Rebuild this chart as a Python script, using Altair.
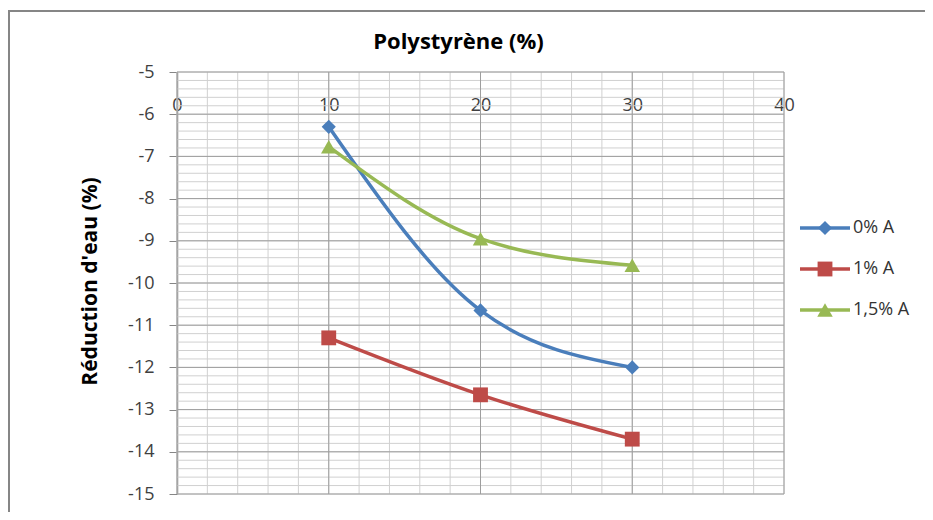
import altair as alt
import pandas as pd

# ---- data ----
polystyrene = [10, 20, 30]
series_names = ["0% A", "1% A", "1,5% A"]
s_0 = [-6.3, -10.65, -12.0]
s_1 = [-11.3, -12.65, -13.7]
s_15 = [-6.77, -8.95, -9.58]
colors = ["#4A7EBB", "#BE4B48", "#98B954"]
shapes = ["diamond", "square", "triangle-up"]
sizes = [200, 240, 260]
x_ticks = [0, 10, 20, 30, 40]
y_ticks = list(range(-15, -4))
x_minor = list(range(0, 41, 2))
y_minor = [round(-15 + 0.2 * i, 1) for i in range(51)]

rows = []
for name, vals in zip(series_names, [s_0, s_1, s_15]):
    for x, v in zip(polystyrene, vals):
        rows.append({"series": name, "x": x, "y": v})
df = pd.DataFrame(rows)
leg = pd.DataFrame({"series": series_names, "i": list(range(len(series_names)))})

W, H = 607, 422
FONT = "Open Sans"
xs = alt.Scale(domain=[0, 40], nice=False, zero=False)
ys = alt.Scale(domain=[-15, -5], nice=False, zero=False)
color = alt.Color("series:N", scale=alt.Scale(domain=series_names, range=colors), legend=None)
shape = alt.Shape("series:N", scale=alt.Scale(domain=series_names, range=shapes), legend=None)
size = alt.Size("series:N", scale=alt.Scale(domain=series_names, range=sizes), legend=None)

x_axis = alt.Axis(orient="top", offset=-H / 10, values=x_ticks, domain=False, ticks=False, grid=False,
                  labelFont=FONT, labelFontSize=18, labelColor="#404040", labelPadding=0,
                  labelFlush=False, title=None, labelBaseline="bottom")
y_axis = alt.Axis(orient="left", values=y_ticks, grid=False, domainColor="#868686", domainWidth=1.5,
                  tickColor="#868686", tickSize=8, labelPadding=15, labelFont=FONT,
                  labelFontSize=18, labelColor="#404040", labelExpr="datum.value + ''",
                  title="Réduction d'eau (%)", titleFont=FONT, titleFontSize=21,
                  titleFontWeight="bold", titleColor="#000000", titleX=-87, titleY=H / 2 - 2,
                  titleBaseline="middle", titleAlign="center", titleAngle=270)

v_minor = alt.Chart(pd.DataFrame({"x": x_minor})).mark_rule(color="#d0d0d0", strokeWidth=1).encode(
    x=alt.X("x:Q", scale=xs, axis=x_axis))
h_minor = alt.Chart(pd.DataFrame({"y": y_minor})).mark_rule(color="#d0d0d0", strokeWidth=1).encode(
    y=alt.Y("y:Q", scale=ys, axis=y_axis))
v_major = alt.Chart(pd.DataFrame({"x": x_ticks})).mark_rule(color="#9e9e9e", strokeWidth=1).encode(
    x=alt.X("x:Q", scale=xs, axis=x_axis))
h_major = alt.Chart(pd.DataFrame({"y": y_ticks})).mark_rule(color="#9e9e9e", strokeWidth=1).encode(
    y=alt.Y("y:Q", scale=ys, axis=y_axis))

lines = alt.Chart(df).mark_line(strokeWidth=3.5, interpolate="monotone").encode(
    x=alt.X("x:Q", scale=xs, axis=x_axis),
    y=alt.Y("y:Q", scale=ys, axis=y_axis),
    color=color,
    detail="series:N",
)
points = alt.Chart(df).mark_point(filled=True, opacity=1).encode(
    x=alt.X("x:Q", scale=xs, axis=x_axis), y=alt.Y("y:Q", scale=ys, axis=y_axis),
    color=color, shape=shape, size=size)

# legend built from the series names
leg_base = alt.Chart(leg).transform_calculate(ly="156 + 41 * datum.i")
leg_rule = leg_base.mark_rule(strokeWidth=3.5).encode(
    x=alt.value(623), x2=alt.value(673), y=alt.Y("ly:Q", scale=None), color=color)
leg_pt = leg_base.mark_point(filled=True, opacity=1).encode(
    x=alt.value(648), y=alt.Y("ly:Q", scale=None), color=color, shape=shape, size=size)
leg_txt = leg_base.mark_text(align="left", baseline="middle", font=FONT, fontSize=18,
                             color="#333333").encode(
    x=alt.value(676), y=alt.Y("ly:Q", scale=None), text="series:N")

border = alt.Chart(pd.DataFrame({"a": [0]})).mark_rect(fillOpacity=0, stroke="#868686", strokeWidth=2).encode(
    x=alt.value(-168), x2=alt.value(W + 170), y=alt.value(-61), y2=alt.value(H + 100))

chart = alt.layer(
    border, v_minor, h_minor, v_major, h_major, lines, points, leg_rule, leg_pt, leg_txt
).properties(
    width=W, height=H,
    title=alt.TitleParams("Polystyrène (%)", font=FONT, fontSize=22, fontWeight="bold",
                          color="#000000", anchor="middle", frame="group", dx=-22, offset=-44),
    autosize=alt.AutoSizeParams(type="none"),
    padding={"left": 169, "top": 64, "right": 141, "bottom": 18},
).configure_view(stroke=None)

chart.save("out.html", embed_options={"renderer": "svg", "actions": False})
